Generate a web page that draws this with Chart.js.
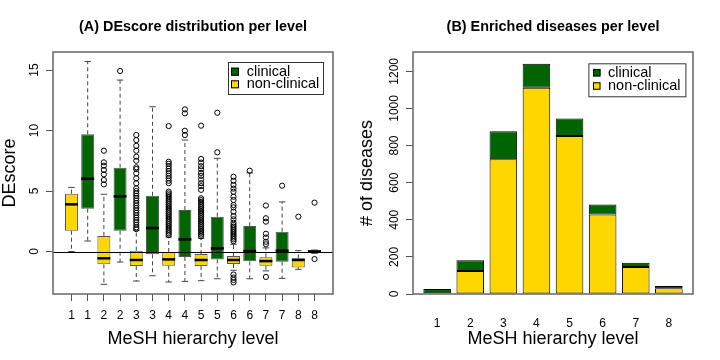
<!DOCTYPE html>
<html>
<head>
<meta charset="utf-8">
<script src="https://cdn.jsdelivr.net/npm/chart.js@4/dist/chart.umd.min.js"></script>
<style>
    html, body { margin: 0; padding: 0; background: #fff; }
    #wrap { width: 720px; height: 360px; display: flex; }
    canvas { display: block; }
</style>
</head>
<body>
<div id="wrap">
    <canvas id="boxChart" width="360" height="360"></canvas>
    <canvas id="barChart" width="360" height="360"></canvas>
</div>
<script>

///////////////////////////////////////
// Data
const levels = ['1', '2', '3', '4', '5', '6', '7', '8']
const seriesNames = ['clinical', 'non-clinical']
const seriesColors = ['#006400', '#FFD700']

// (A) DEscore box summaries per level
const clinicalLow  = [0.87, -0.87, -2.0, -2.47, -2.25, -2.25, -2.22, -0.15]
const clinicalQ1   = [3.54, 1.72, -0.23, -0.45, -0.65, -0.81, -0.84, -0.15]
const clinicalMed  = [6.02, 4.56, 1.94, 1.0, 0.26, 0.04, 0.07, 0.0]
const clinicalQ3   = [9.69, 6.93, 4.61, 3.43, 2.88, 2.1, 1.64, 0.12]
const clinicalHigh = [15.7, 14.17, 11.97, 9.21, 7.7, 6.5, 4.1, 0.12]

const nonClinicalLow  = [0.0, -2.71, -2.44, -2.52, -2.41, -1.55, -1.6, -1.47]
const nonClinicalQ1   = [1.72, -1.06, -1.2, -1.17, -1.2, -1.03, -1.17, -1.31]
const nonClinicalMed  = [3.9, -0.56, -0.7, -0.65, -0.7, -0.7, -0.79, -0.7]
const nonClinicalQ3   = [4.78, 1.28, 0.07, -0.04, -0.2, -0.37, -0.48, -0.56]
const nonClinicalHigh = [5.3, 4.73, 1.75, 1.2, 1.1, 0.6, 0.3, 0.07]

const clinicalOutliers = [
    [],
    [14.92],
    [],
    [11.75, 11.42, 9.98, 9.63],
    [11.47, 8.2],
    [6.68],
    [5.44],
    [4.04, -0.62],
]

const nonClinicalOutliers = [
    [],
    [8.33, 7.37, 7.09, 6.74, 6.38, 5.91, 5.55],
    [9.63, 9.21, 8.74, 8.33, 7.84, 7.5, 6.96, 6.82, 6.46, 6.05, 5.64, 5.22, 5.0, 4.8, 4.6,
     4.4, 4.2, 4.0, 3.8, 3.6, 3.4, 3.2, 3.0, 2.8, 2.6, 2.4, 2.2, 2.0, 1.85],
    [10.37, 7.42, 7.25, 7.05, 6.85, 6.65, 6.45, 6.25, 6.05, 5.85, 5.65, 4.95, 4.8, 4.65, 4.5,
     4.35, 4.2, 4.05, 3.9, 3.75, 3.6, 3.45, 3.3, 3.15, 3.0, 2.85, 2.7, 2.55, 2.4, 2.25, 2.1,
     1.95, 1.8, 1.65, 1.5, 1.35],
    [10.4, 7.65, 7.35, 7.05, 6.8, 6.5, 6.25, 5.95, 5.65, 5.4, 5.1, 4.4, 4.25, 4.1, 3.95, 3.8,
     3.65, 3.5, 3.35, 3.2, 3.05, 2.9, 2.75, 2.6, 2.45, 2.3, 2.15, 2.0, 1.85, 1.7, 1.55, 1.4, 1.25],
    [6.18, 5.85, 5.5, 5.2, 4.94, 4.53, 4.26, 3.84, 3.65, 3.29, 2.93, 2.66, 2.38, 2.19, 2.05,
     1.9, 1.75, 1.6, 1.45, 1.3, 1.15, 1.0, 0.85, -1.9, -2.15, -2.35, -2.55],
    [3.8, 2.75, 2.47, 1.47, 1.16, 0.8, 0.6, -2.1],
    [2.88],
]

const deTicks = [0, 5, 10, 15]

// (B) number of enriched diseases per level
const clinicalCounts    = [23, 58, 151, 129, 94, 54, 23, 12]
const nonClinicalCounts = [4, 124, 726, 1112, 851, 428, 146, 31]
const countTicks = [0, 200, 400, 600, 800, 1000, 1200]
///////////////////////////////////////

const FONT = "'Liberation Sans', Arial, Helvetica, sans-serif"
Chart.defaults.font.family = FONT
Chart.defaults.color = '#000'

// boxplot slots: non-clinical then clinical for every level
const nonClinicalPos = levels.map((l, i) => 2 * i + 1)
const clinicalPos = levels.map((l, i) => 2 * i + 2)
const boxTickLabels = levels.flatMap(l => [l, l])
const boxTickPos = boxTickLabels.map((l, i) => i + 1)

// barplot slots the way R places them (width 1, space 0.2)
const barPos = levels.map((l, i) => 0.7 + 1.2 * i)

const boxGroups = [
    { low: nonClinicalLow, q1: nonClinicalQ1, med: nonClinicalMed, q3: nonClinicalQ3, high: nonClinicalHigh },
    { low: clinicalLow, q1: clinicalQ1, med: clinicalMed, q3: clinicalQ3, high: clinicalHigh },
]

const outlierPoints = (outs, pos) => outs.flatMap((vals, i) => vals.map(v => ({ x: pos[i], y: v })))


// whiskers, staples, medians and the zero line of panel A
const boxPartsPlugin = {
    id: 'boxParts',
    beforeDatasetsDraw: function(chart) {
        const ctx = chart.ctx
        const y = chart.scales.y
        ctx.save()
        ctx.lineWidth = 1
        boxGroups.forEach((g, d) => {
            chart.getDatasetMeta(d).data.forEach((bar, i) => {
                const half = bar.width / 4
                ctx.strokeStyle = '#444'
                ctx.setLineDash([4, 3])
                ctx.beginPath()
                ctx.moveTo(bar.x, y.getPixelForValue(g.q3[i]))
                ctx.lineTo(bar.x, y.getPixelForValue(g.high[i]))
                ctx.moveTo(bar.x, y.getPixelForValue(g.q1[i]))
                ctx.lineTo(bar.x, y.getPixelForValue(g.low[i]))
                ctx.stroke()
                ctx.setLineDash([])
                ctx.beginPath()
                ctx.moveTo(bar.x - half, y.getPixelForValue(g.high[i]))
                ctx.lineTo(bar.x + half, y.getPixelForValue(g.high[i]))
                ctx.moveTo(bar.x - half, y.getPixelForValue(g.low[i]))
                ctx.lineTo(bar.x + half, y.getPixelForValue(g.low[i]))
                ctx.stroke()
            })
        })
        ctx.restore()
    },
    afterDatasetsDraw: function(chart) {
        const ctx = chart.ctx
        const y = chart.scales.y
        const area = chart.chartArea
        ctx.save()
        ctx.strokeStyle = '#000'
        ctx.lineWidth = 2.5
        boxGroups.forEach((g, d) => {
            chart.getDatasetMeta(d).data.forEach((bar, i) => {
                const py = y.getPixelForValue(g.med[i])
                ctx.beginPath()
                ctx.moveTo(bar.x - bar.width / 2, py)
                ctx.lineTo(bar.x + bar.width / 2, py)
                ctx.stroke()
            })
        })
        // abline(h = 0)
        ctx.lineWidth = 1
        const y0 = Math.round(y.getPixelForValue(0)) + 0.5
        ctx.beginPath()
        ctx.moveTo(area.left, y0)
        ctx.lineTo(area.right, y0)
        ctx.stroke()
        ctx.restore()
    }
}


// plot frame plus an R-style legend box in the top-right corner
const frameLegendPlugin = {
    id: 'frameLegend',
    afterDatasetsDraw: function(chart, args, opts) {
        const ctx = chart.ctx
        const area = chart.chartArea
        ctx.save()
        ctx.strokeStyle = '#666'
        ctx.lineWidth = 1.5
        ctx.strokeRect(area.left, area.top, area.right - area.left, area.bottom - area.top)

        const lx = area.right - opts.right - opts.w
        const ly = area.top + opts.top
        ctx.fillStyle = '#fff'
        ctx.fillRect(lx, ly, opts.w, opts.h)
        ctx.strokeStyle = '#333'
        ctx.lineWidth = 1
        ctx.strokeRect(lx + 0.5, ly + 0.5, opts.w, opts.h)

        ctx.font = '14.5px ' + FONT
        ctx.textBaseline = 'middle'
        seriesNames.forEach((name, i) => {
            const cy = ly + opts.rows[i]
            ctx.fillStyle = seriesColors[i]
            ctx.fillRect(lx + opts.sq, cy - opts.size / 2, opts.size, opts.size)
            ctx.strokeStyle = '#000'
            ctx.strokeRect(lx + opts.sq + 0.5, cy - opts.size / 2 + 0.5, opts.size - 1, opts.size - 1)
            ctx.fillStyle = '#000'
            ctx.fillText(name, lx + opts.text, cy)
        })
        ctx.restore()
    }
}


function titleOptions(text) {
    return {
        display: true,
        text: text,
        fullSize: false,
        color: '#000',
        font: { family: FONT, size: 14.4, weight: 'bold', lineHeight: 1.2 },
        padding: { top: 18, bottom: 16.72 },
    }
}

function xTitle(text) {
    return { display: true, text: text, color: '#000', font: { family: FONT, size: 18, lineHeight: 1.2 }, padding: { top: 0, bottom: 9.7 } }
}


const boxChart = new Chart(document.getElementById('boxChart'), {
    type: 'bar',
    data: {
        datasets: [
            {
                label: seriesNames[1],
                data: nonClinicalPos.map((p, i) => ({ x: p, y: [nonClinicalQ1[i], nonClinicalQ3[i]] })),
                backgroundColor: seriesColors[1],
                borderColor: '#555',
                borderWidth: 1,
                borderSkipped: false,
                grouped: false,
                categoryPercentage: 0.8,
                barPercentage: 1,
                order: 1,
            },
            {
                label: seriesNames[0],
                data: clinicalPos.map((p, i) => ({ x: p, y: [clinicalQ1[i], clinicalQ3[i]] })),
                backgroundColor: seriesColors[0],
                borderColor: '#555',
                borderWidth: 1,
                borderSkipped: false,
                grouped: false,
                categoryPercentage: 0.8,
                barPercentage: 1,
                order: 1,
            },
            {
                type: 'scatter',
                data: outlierPoints(nonClinicalOutliers, nonClinicalPos),
                pointStyle: 'circle',
                pointRadius: 2.6,
                pointBorderWidth: 1,
                pointBorderColor: '#000',
                pointBackgroundColor: 'rgba(0,0,0,0)',
                order: 0,
            },
            {
                type: 'scatter',
                data: outlierPoints(clinicalOutliers, clinicalPos),
                pointStyle: 'circle',
                pointRadius: 2.6,
                pointBorderWidth: 1,
                pointBorderColor: '#000',
                pointBackgroundColor: 'rgba(0,0,0,0)',
                order: 0,
            },
        ]
    },
    options: {
        responsive: false,
        animation: false,
        events: [],
        layout: { padding: { left: 0, right: 27, top: 0, bottom: 0 } },
        plugins: {
            legend: { display: false },
            tooltip: { enabled: false },
            title: titleOptions('(A) DEscore distribution per level'),
            frameLegend: { right: 10, top: 10, w: 95, h: 32, sq: 3, size: 8, text: 18.7, rows: [9.7, 22.3] },
        },
        scales: {
            x: {
                type: 'linear',
                offset: false,
                min: -0.14,
                max: 17.14,
                afterBuildTicks: function(scale) { scale.ticks = boxTickPos.map(v => ({ value: v })) },
                afterFit: function(scale) { scale.height = 66 },
                grid: { offset: false, drawOnChartArea: false, tickLength: 7, color: '#555' },
                border: { display: false },
                ticks: { autoSkip: false, maxRotation: 0, padding: 7.6, color: '#000', font: { size: 12 },
                    callback: (v, i) => boxTickLabels[i] },
                title: xTitle('MeSH hierarchy level'),
            },
            y: {
                min: -3.51,
                max: 16.49,
                afterBuildTicks: function(scale) { scale.ticks = deTicks.map(v => ({ value: v })) },
                afterFit: function(scale) { scale.width = 53 },
                grid: { drawOnChartArea: false, tickLength: 7, color: '#555' },
                border: { display: false },
                ticks: { autoSkip: false, minRotation: 90, maxRotation: 90, crossAlign: 'center', padding: 4.8,
                    color: '#000', font: { size: 12 }, callback: v => String(v) },
                title: { display: true, text: 'DEscore', color: '#000', font: { size: 18, lineHeight: 1.2 }, padding: { top: -0.5, bottom: 0 } },
            },
        },
    },
    plugins: [boxPartsPlugin, frameLegendPlugin],
})


const barChart = new Chart(document.getElementById('barChart'), {
    type: 'bar',
    data: {
        datasets: [
            {
                label: seriesNames[1],
                data: barPos.map((p, i) => ({ x: p, y: nonClinicalCounts[i] })),
                backgroundColor: seriesColors[1],
                borderColor: '#000',
                borderWidth: 1,
                borderSkipped: false,
                categoryPercentage: 1 / 1.2,
                barPercentage: 1,
            },
            {
                label: seriesNames[0],
                data: barPos.map((p, i) => ({ x: p, y: clinicalCounts[i] })),
                backgroundColor: seriesColors[0],
                borderColor: '#000',
                borderWidth: 1,
                borderSkipped: false,
                categoryPercentage: 1 / 1.2,
                barPercentage: 1,
            },
        ]
    },
    options: {
        responsive: false,
        animation: false,
        events: [],
        layout: { padding: { left: 0, right: 27, top: 0, bottom: 0 } },
        plugins: {
            legend: { display: false },
            tooltip: { enabled: false },
            title: titleOptions('(B) Enriched diseases per level'),
            frameLegend: { right: 7.6, top: 11.3, w: 97, h: 33, sq: 4.6, size: 7.5, text: 19.6, rows: [9.4, 22.7] },
        },
        scales: {
            x: {
                type: 'linear',
                offset: false,
                stacked: true,
                min: -0.176,
                max: 9.976,
                afterBuildTicks: function(scale) { scale.ticks = barPos.map(v => ({ value: v })) },
                afterFit: function(scale) { scale.height = 66 },
                grid: { display: false, offset: false },
                border: { display: false },
                ticks: { autoSkip: false, maxRotation: 0, padding: 14.6, color: '#000', font: { size: 12 },
                    callback: (v, i) => levels[i] },
                title: xTitle('MeSH hierarchy level'),
            },
            y: {
                stacked: true,
                min: 0,
                max: 1304,
                afterBuildTicks: function(scale) { scale.ticks = countTicks.map(v => ({ value: v })) },
                afterFit: function(scale) { scale.width = 53 },
                grid: { drawOnChartArea: false, tickLength: 7, color: '#555' },
                border: { display: false },
                ticks: { autoSkip: false, minRotation: 90, maxRotation: 90, crossAlign: 'center', padding: -1.85,
                    color: '#000', font: { size: 12 }, callback: v => String(v) },
                title: { display: true, text: '# of diseases', color: '#000', font: { size: 18, lineHeight: 1.2 }, padding: { top: -3.6, bottom: 0 } },
            },
        },
    },
    plugins: [frameLegendPlugin],
})

</script>
</body>
</html>
